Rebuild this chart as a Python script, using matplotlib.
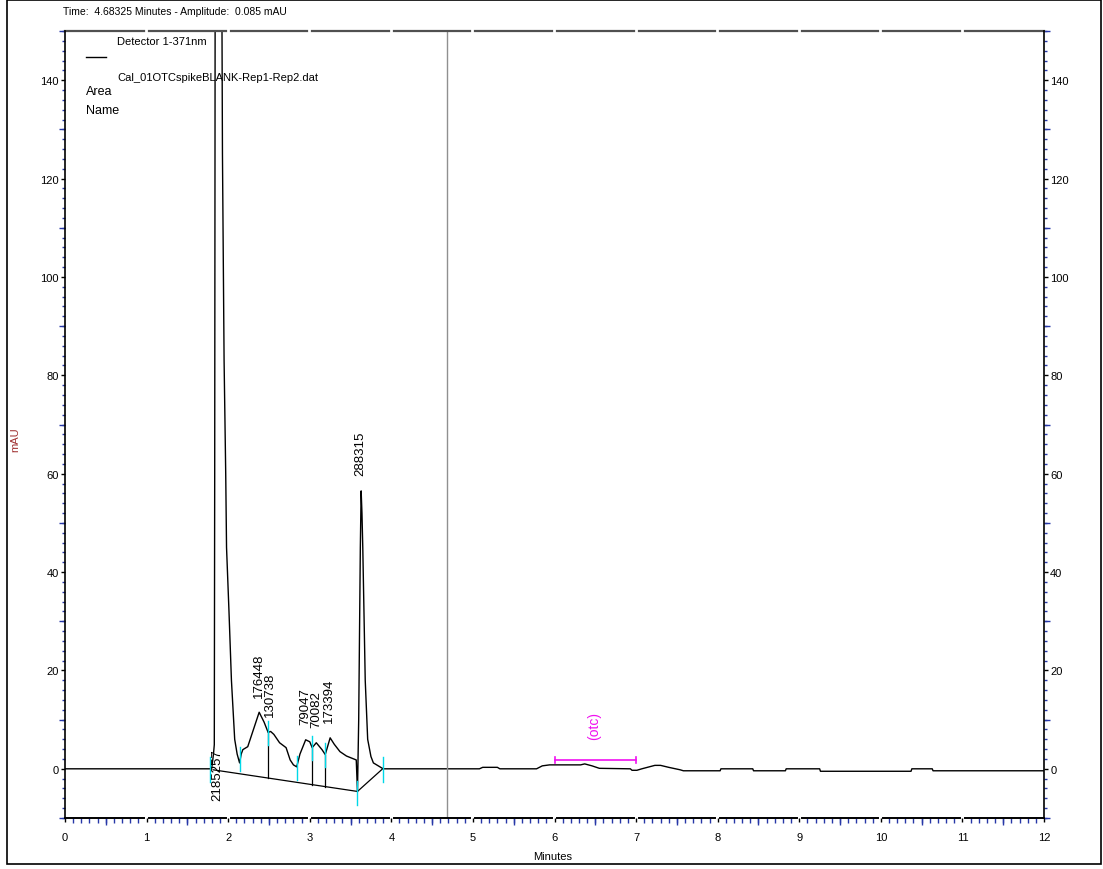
import numpy as np
import matplotlib
matplotlib.use('Agg')
import matplotlib.pyplot as plt
from matplotlib.ticker import MultipleLocator
from matplotlib.patches import Rectangle

plt.rcParams['font.family'] = ['Liberation Sans Narrow', 'Liberation Sans', 'DejaVu Sans']

# chromatogram trace (minutes, mAU)
t = [0, 1.78, 1.80, 1.82, 1.83, 1.835, 1.84, 1.86, 1.88, 1.90, 1.92, 1.93, 1.95, 1.97,
     1.98, 2.01, 2.04, 2.08, 2.11, 2.14, 2.16, 2.18, 2.24, 2.30, 2.38, 2.44, 2.49, 2.52,
     2.56, 2.63, 2.71, 2.76, 2.80, 2.84, 2.88, 2.95, 3.00, 3.03, 3.08, 3.15, 3.19, 3.25,
     3.30, 3.37, 3.45, 3.57, 3.585, 3.60, 3.62, 3.63, 3.64, 3.65, 3.68, 3.71, 3.75, 3.78,
     3.88, 3.90, 5.08, 5.12, 5.30, 5.33, 5.78, 5.85, 5.94, 6.32, 6.37, 6.46, 6.55, 6.93,
     6.95, 7.01, 7.07, 7.23, 7.30, 7.40, 7.54, 7.58, 8.03, 8.04, 8.43, 8.44, 8.83, 8.84,
     9.25, 9.26, 10.37, 10.38, 10.63, 10.64, 12.0]
mau = [0, 0, 0.3, 3.0, 4.9, 60, 150, 300, 400, 300, 170, 125, 83, 60,
       45, 32, 18, 6, 3, 1.2, 3.0, 3.9, 4.5, 7.5, 11.5, 9.5, 7.4, 7.6,
       7.0, 5.3, 4.3, 1.8, 0.8, 0.4, 3.0, 5.9, 5.5, 4.3, 5.3, 3.9, 2.9, 6.3,
       5.0, 3.5, 2.6, 1.8, -4.7, 10, 45, 56.5, 52, 45, 18, 6, 2.5, 1.2,
       0.2, 0, 0, 0.3, 0.3, 0, 0, 0.6, 0.8, 0.8, 1.0, 0.6, 0.1, 0,
       -0.3, -0.3, 0, 0.7, 0.7, 0.3, -0.2, -0.4, -0.4, 0, 0, -0.4, -0.4, 0,
       0, -0.5, -0.5, 0, 0, -0.4, -0.4]

# integration baseline and peak events
base_t = [1.815, 3.585, 3.90]
base_y = [-0.2, -4.6, 0.1]
event_t = [1.78, 2.15, 2.49, 2.84, 3.03, 3.19, 3.585, 3.90]
drop_t = [2.49, 3.03, 3.19]
peak_rt = [1.88, 2.375, 2.515, 2.945, 3.08, 3.24, 3.62]
peak_area = ['2185257', '176448', '130738', '79047', '70082', '173394', '288315']

cursor_time = 4.68325
otc_window = [6.0, 7.0]

blue = '#2838a8'
cyan = '#00d8e8'
magenta = '#f010f0'

fig = plt.figure(figsize=(11.03, 8.70), dpi=100)
ax = fig.add_axes([65/1103, 51/870, 979/1103, 787/870])
ax.set_xlim(0, 12)
ax.set_ylim(-10, 150)

ax.plot(t, mau, color='black', lw=1.0)
ax.plot(base_t, base_y, color='black', lw=0.9)
for d in drop_t:
    ax.plot([d, d], [np.interp(d, t, mau), np.interp(d, base_t, base_y)], color='black', lw=0.9)
for e in event_t:
    s = np.interp(e, t, mau)
    ax.plot([e, e], [s - 2.6, s + 2.3], color=cyan, lw=1.0)

for rt, area in zip(peak_rt, peak_area):
    h = max(np.interp(rt, t, mau), np.interp(rt + 0.01, t, mau))
    if h > 150:
        ax.text(rt - 0.01, -1, area, rotation=90, ha='center', va='center',
                fontsize=9.5, family='Liberation Sans')
    else:
        ax.text(rt, h + 3.2, area, rotation=90, ha='center', va='bottom',
                fontsize=9.5, family='Liberation Sans')

ax.axvline(cursor_time, color='#909090', lw=1.0)

# otc window bracket
ax.plot(otc_window, [1.8, 1.8], color=magenta, lw=1.2)
for w in otc_window:
    ax.plot([w, w], [1.1, 2.5], color=magenta, lw=1.2)
ax.text(np.mean(otc_window) - 0.01, 9, '(otc)', rotation=90, ha='center', va='center',
        color=magenta, fontsize=10, family='Liberation Sans')

# spines
for s in ['top', 'bottom']:
    ax.spines[s].set_visible(False)
for s in ['left', 'right']:
    ax.spines[s].set_linewidth(1.2)
tr = ax.get_xaxis_transform()
for i in range(12):
    a = i + 0.03 if i > 0 else 0
    b = i + 1 - 0.03 if i < 11 else 12
    ax.plot([a, b], [1, 1], transform=tr, color='#505050', lw=1.6, clip_on=False)
    ax.plot([a, b], [0, 0], transform=tr, color='black', lw=1.4, clip_on=False)

ax.xaxis.set_major_locator(MultipleLocator(1))
ax.xaxis.set_minor_locator(MultipleLocator(0.1))
ax.yaxis.set_major_locator(MultipleLocator(20))
ax.yaxis.set_minor_locator(MultipleLocator(2))
ax.tick_params(axis='x', which='major', length=3, width=1, color='black', pad=7, labelsize=8)
ax.tick_params(axis='x', which='minor', length=3.5, width=1, color=blue)
ax.tick_params(axis='y', which='both', left=True, right=True, labelleft=True, labelright=True)
ax.tick_params(axis='y', which='major', length=3, width=1, color='black', pad=1.5, labelsize=8)
ax.tick_params(axis='y', which='minor', length=2.5, width=1, color=blue)

# medium ticks
sx = ax.secondary_xaxis('bottom')
sx.set_xticks(np.arange(0.5, 12, 1))
sx.tick_params(length=5, width=1, color=blue, labelbottom=False)
sx.spines['bottom'].set_visible(False)
for side in ['left', 'right']:
    sy = ax.secondary_yaxis(side)
    sy.set_yticks(np.arange(-10, 151, 20))
    sy.tick_params(length=4.5, width=1, color=blue, labelleft=False, labelright=False)
    sy.spines[side].set_visible(False)

# legend block
ax.text(0.053, 0.987, 'Detector 1-371nm', transform=ax.transAxes, fontsize=8, va='center')
ax.plot([0.0215, 0.042], [0.967, 0.967], transform=ax.transAxes, color='black', lw=1.0)
ax.text(0.053, 0.942, 'Cal_01OTCspikeBLANK-Rep1-Rep2.dat', transform=ax.transAxes,
        fontsize=8, va='center')
ax.text(0.0215, 0.924, 'Area', transform=ax.transAxes, fontsize=9, va='center')
ax.text(0.0215, 0.899, 'Name', transform=ax.transAxes, fontsize=9, va='center')

fig.text(63/1103, 1 - 12/870, 'Time:  4.68325 Minutes - Amplitude:  0.085 mAU',
         fontsize=7.5, va='center')
fig.text(15/1103, 1 - 440/870, 'mAU', rotation=90, color='#a03030', fontsize=8,
         ha='center', va='center')
fig.text(553/1103, 1 - 857/870, 'Minutes', fontsize=8, ha='center', va='center')

fig.add_artist(Rectangle((7/1103, 5/870), 1094/1103, 864/870, transform=fig.transFigure,
                         fill=False, ec='black', lw=1.2))

fig.savefig('out.png', dpi=100)
